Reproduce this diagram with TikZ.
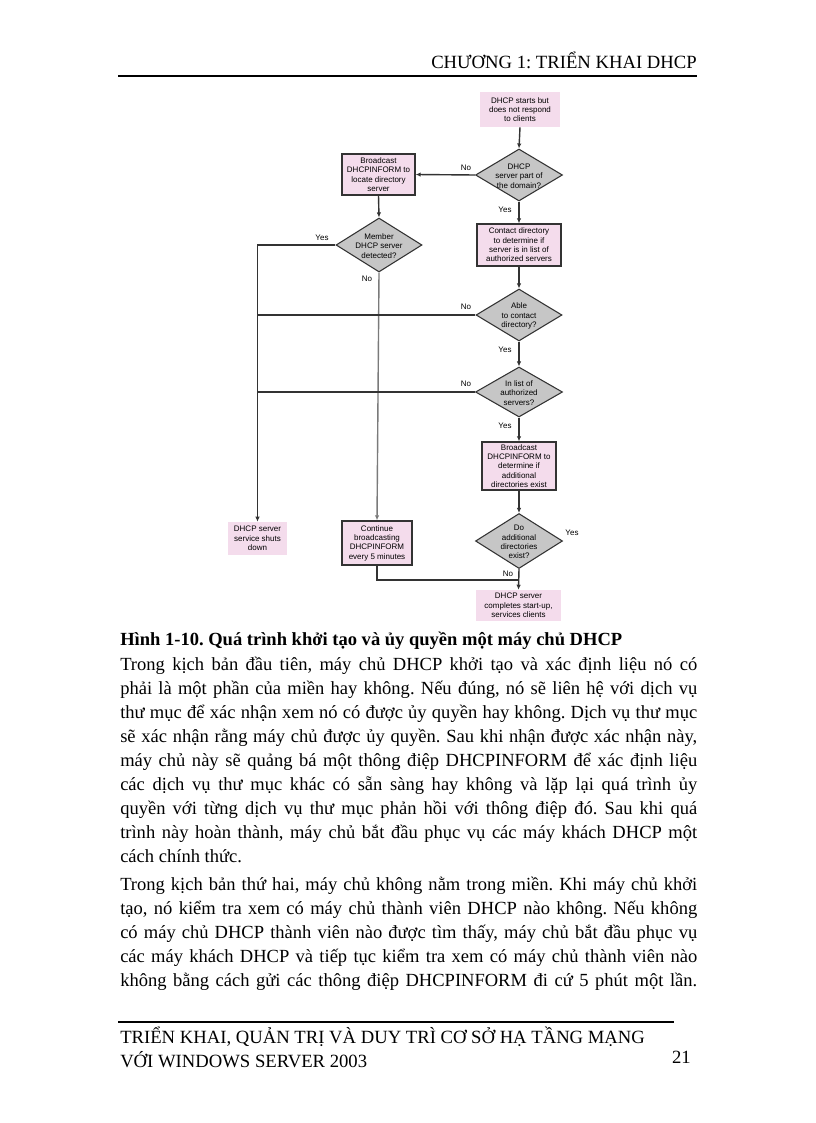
\documentclass[tikz,border=0pt]{standalone}
\usepackage{fontspec}
\setmainfont{Liberation Serif}
\newfontfamily\flowfam{Liberation Sans}
\usetikzlibrary{shapes.geometric,arrows.meta}
\frenchspacing
\definecolor{pinkc}{HTML}{F4DCEC}
\definecolor{grayc}{HTML}{C6C6C6}
\definecolor{linec}{HTML}{333333}
\definecolor{lightline}{HTML}{7A7A7A}
\newcommand{\jline}[1]{\makebox[432.75pt][s]{#1}}
\tikzset{
  flowtext/.style={font=\flowfam\fontsize{6.0}{7.0}\selectfont, align=center, inner sep=0pt},
  pinkbox/.style={flowtext, fill=pinkc, draw=none, minimum width=#1},
  pinkbord/.style={flowtext, fill=pinkc, draw=linec, line width=1.05pt},
  decision/.style={diamond, fill=grayc, draw=linec, line width=0.8pt, inner sep=0pt},
  dlabel/.style={font=\flowfam\fontsize{6}{7}\selectfont, inner sep=0pt},
  conn/.style={draw=linec, line width=1.05pt},
  arr/.style={conn, -{Latex[length=3.75pt,width=3.4pt]}},
  bodyline/.style={anchor=base west, inner sep=0pt, font=\fontsize{13.9}{16}\selectfont},
}
\begin{document}
\begin{tikzpicture}[x=0.75pt,y=-0.75pt]
\useasboundingbox (0,0) rectangle (816,1123);
\fill[white] (0,0) rectangle (816,1123);

% header
\node[anchor=base east, inner sep=0pt, font=\fontsize{14}{16}\selectfont] (hdr) at (697,69) {CHƯƠNG 1: TRIỂN KHAI DHCP};
\draw[line width=1.5pt, black] (118,76) -- (697,76);

% flowchart nodes
\node[pinkbox=60pt, minimum height=26.25pt] (start) at (520,109.5) {DHCP starts but\\does not respond\\to clients};
\node[decision, minimum width=65.25pt, minimum height=39pt] (d1) at (519,175) {};
\node[flowtext] (d1t) at (519,176) {DHCP\\server part of\\the domain?};
\node[pinkbord, minimum width=54.75pt, minimum height=30.75pt] (b1) at (378.5,174.5) {Broadcast\\DHCPINFORM to\\locate directory\\server};
\node[decision, minimum width=64.5pt, minimum height=40.5pt] (dm) at (379,245) {};
\node[flowtext] (dmt) at (379,246) {Member\\DHCP server\\detected?};
\node[pinkbord, minimum width=63pt, minimum height=31.5pt] (b2) at (519,245) {Contact directory\\to determine if\\server is in list of\\authorized servers};
\node[decision, minimum width=64.5pt, minimum height=39pt] (d2) at (519,315) {};
\node[flowtext] (d2t) at (519,316) {Able\\to contact\\directory?};
\node[decision, minimum width=65.25pt, minimum height=37.5pt] (d3) at (519,392) {};
\node[flowtext] (d3t) at (519,393) {In list of\\authorized\\servers?};
\node[pinkbord, minimum width=55.5pt, minimum height=36pt] (b3) at (519,466) {Broadcast\\DHCPINFORM to\\determine if\\additional\\directories exist};
\node[decision, minimum width=65.25pt, minimum height=41.25pt] (d4) at (519,541) {};
\node[flowtext] (d4t) at (519,542) {Do\\additional\\directories\\exist?};
\node[pinkbox=63.75pt, minimum height=23.25pt] (fin) at (518.5,605.5) {DHCP server\\completes start-up,\\services clients};
\node[pinkbord, minimum width=52.5pt, minimum height=33pt] (cont) at (377,543) {Continue\\broadcasting\\DHCPINFORM\\every 5 minutes};
\node[pinkbox=44.25pt, minimum height=24.75pt] (shut) at (257.5,538.5) {DHCP server\\service shuts\\down};

\coordinate (j) at (519,580);

% connectors
\draw[arr] (start.south) -- (d1.north);
\draw[arr] (d1.west) -- (b1.east);
\draw[arr] (d1.south) -- (b2.north);
\draw[arr] (b1.south) -- (dm.north);
\draw[arr] (dm.west) -| (shut.north);
\draw[arr, draw=lightline] (dm.south) -- (cont.north);
\draw[arr] (b2.south) -- (d2.north);
\draw[conn] (d2.west) -- (d2.west -| shut.north);
\draw[arr] (d2.south) -- (d3.north);
\draw[conn] (d3.west) -- (d3.west -| shut.north);
\draw[arr] (d3.south) -- (b3.north);
\draw[arr] (b3.south) -- (d4.north);
\draw[arr] (d4.south) -- (fin.north);
\draw[conn] (cont.south) |- (j);

% connector labels
\node[dlabel] (l1) at (466,168) {No};
\node[dlabel] (l2) at (505,210) {Yes};
\node[dlabel] (l3) at (322,238) {Yes};
\node[dlabel] (l4) at (367,279) {No};
\node[dlabel] (l5) at (466,307) {No};
\node[dlabel] (l6) at (505,350) {Yes};
\node[dlabel] (l7) at (466,384) {No};
\node[dlabel] (l8) at (505,426) {Yes};
\node[dlabel] (l9) at (572,533) {Yes};
\node[dlabel] (l10) at (508,574) {No};

% caption
\node[anchor=base west, inner sep=0pt, font=\bfseries\fontsize{13.9}{16}\selectfont] (cap) at (120,645) {Hình 1-10. Quá trình khởi tạo và ủy quyền một máy chủ DHCP};

% paragraph 1
\node[bodyline] (p1a) at (120,670) {\jline{Trong kịch bản đầu tiên, máy chủ DHCP khởi tạo và xác định liệu nó có}};
\node[bodyline] (p1b) at (120,694) {\jline{phải là một phần của miền hay không. Nếu đúng, nó sẽ liên hệ với dịch vụ}};
\node[bodyline] (p1c) at (120,718) {\jline{thư mục để xác nhận xem nó có được ủy quyền hay không. Dịch vụ thư mục}};
\node[bodyline] (p1d) at (120,742) {\jline{sẽ xác nhận rằng máy chủ được ủy quyền. Sau khi nhận được xác nhận này,}};
\node[bodyline] (p1e) at (120,766) {\jline{máy chủ này sẽ quảng bá một thông điệp DHCPINFORM để xác định liệu}};
\node[bodyline] (p1f) at (120,790) {\jline{các dịch vụ thư mục khác có sẵn sàng hay không và lặp lại quá trình ủy}};
\node[bodyline] (p1g) at (120,814) {\jline{quyền với từng dịch vụ thư mục phản hồi với thông điệp đó. Sau khi quá}};
\node[bodyline] (p1h) at (120,838) {\jline{trình này hoàn thành, máy chủ bắt đầu phục vụ các máy khách DHCP một}};
\node[bodyline] (p1i) at (120,862) {cách chính thức.};

% paragraph 2
\node[bodyline] (p2a) at (120,890) {\jline{Trong kịch bản thứ hai, máy chủ không nằm trong miền. Khi máy chủ khởi}};
\node[bodyline] (p2b) at (120,914.2) {\jline{tạo, nó kiểm tra xem có máy chủ thành viên DHCP nào không. Nếu không}};
\node[bodyline] (p2c) at (120,938.4) {\jline{có máy chủ DHCP thành viên nào được tìm thấy, máy chủ bắt đầu phục vụ}};
\node[bodyline] (p2d) at (120,962.6) {\jline{các máy khách DHCP và tiếp tục kiểm tra xem có máy chủ thành viên nào}};
\node[bodyline] (p2e) at (120,986.8) {\jline{không bằng cách gửi các thông điệp DHCPINFORM đi cứ 5 phút một lần.}};

% footer
\draw[line width=1pt, black] (118,1022) -- (674,1022);
\node[bodyline, font=\fontsize{14}{16}\selectfont] (f1) at (120,1043) {TRIỂN KHAI, QUẢN TRỊ VÀ DUY TRÌ CƠ SỞ HẠ TẦNG MẠNG};
\node[bodyline, font=\fontsize{14}{16}\selectfont] (f2) at (120,1067) {VỚI WINDOWS SERVER 2003};
\node[anchor=base east, inner sep=0pt, font=\fontsize{14}{16}\selectfont] (pg) at (691,1063) {21};
\end{tikzpicture}
\end{document}
